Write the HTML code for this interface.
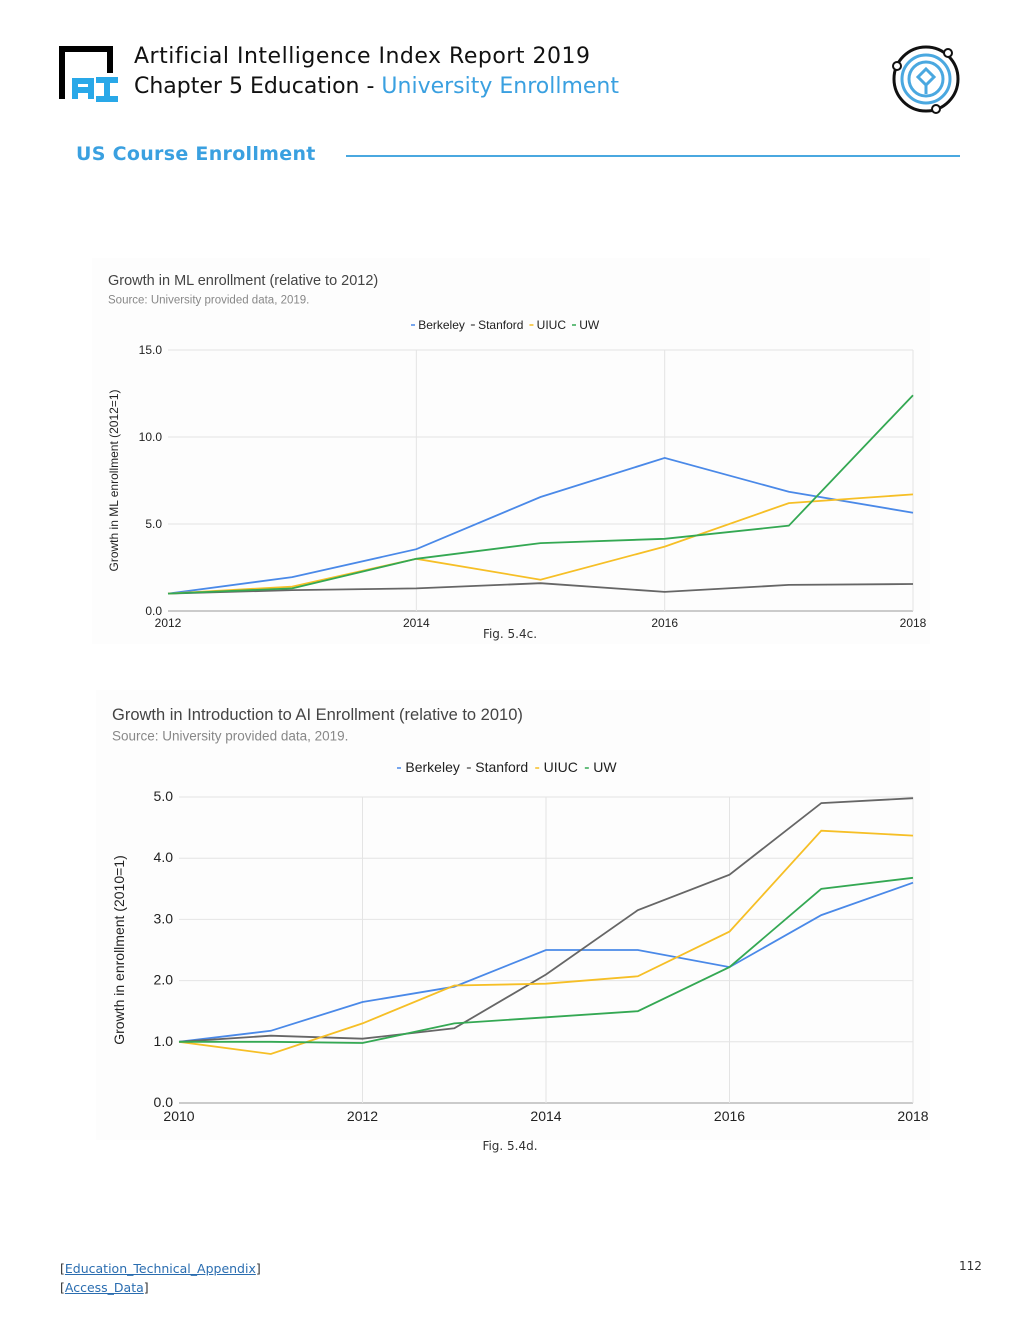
<!DOCTYPE html>
<html><head><meta charset="utf-8">
<style>
body{margin:0;background:#fff;font-family:"Liberation Sans",sans-serif;}
#page{position:relative;width:1020px;height:1320px;overflow:hidden;}
.abs{position:absolute;}
.hdr{font-family:"DejaVu Sans","Liberation Sans",sans-serif;font-size:22px;color:#111;letter-spacing:0.5px;white-space:nowrap;}
a{color:#2a6db0;}
</style></head>
<body>
<div id="page">
  <svg class="abs" style="left:58px;top:45px" width="64" height="58">
    <path d="M4 54 V4 H52 V28" fill="none" stroke="#000" stroke-width="6"/>
    <path d="M17 54 V36 H33 V54 M17 45 H33" fill="none" stroke="#29a8e8" stroke-width="6"/>
    <path d="M38 35 H60 M49 35 V54 M38 54 H60" fill="none" stroke="#29a8e8" stroke-width="6"/>
  </svg>
  <div class="abs hdr" style="left:134px;top:44px">Artificial Intelligence Index Report 2019</div>
  <div class="abs hdr" style="left:134px;top:74px;letter-spacing:0">Chapter 5 Education - <span style="color:#3aa0e0">University Enrollment</span></div>
  <svg class="abs" style="left:888px;top:42px" width="76" height="76">
    <circle cx="38" cy="37" r="32" fill="none" stroke="#111" stroke-width="3"/>
    <circle cx="38" cy="37" r="24" fill="none" stroke="#4aa8e0" stroke-width="3"/>
    <circle cx="38" cy="37" r="17" fill="none" stroke="#4aa8e0" stroke-width="3"/>
    <path d="M38 27 L46 35 L38 43 L30 35 Z" fill="none" stroke="#4aa8e0" stroke-width="3"/>
    <line x1="38" y1="43" x2="38" y2="52" stroke="#4aa8e0" stroke-width="3"/>
    <circle cx="9" cy="24" r="4" fill="#fff" stroke="#111" stroke-width="2"/>
    <circle cx="60" cy="11" r="4" fill="#fff" stroke="#111" stroke-width="2"/>
    <circle cx="48" cy="67" r="4" fill="#fff" stroke="#111" stroke-width="2"/>
  </svg>
  <div class="abs" style="left:76px;top:143px;font-family:'DejaVu Sans',sans-serif;font-size:19px;color:#3aa0e0;font-weight:bold;letter-spacing:0.3px">US Course Enrollment</div>
  <div class="abs" style="left:346px;top:155px;width:614px;height:2px;background:#4aa8e0"></div>

  <svg id="c1" class="abs" style="left:0;top:0" width="1020" height="1320"></svg>

  <div class="abs" style="left:60px;top:1259px;font-family:'DejaVu Sans',sans-serif;font-size:12.5px;color:#333;line-height:19px">
    [<a style="text-decoration:underline">Education_Technical_Appendix</a>]<br>
    [<a style="text-decoration:underline">Access_Data</a>]
  </div>
  <div class="abs" style="left:959px;top:1259px;font-family:'DejaVu Sans',sans-serif;font-size:12px;color:#333">112</div>
</div>
<script>
const seriesNames=["Berkeley","Stanford","UIUC","UW"];
const seriesColors=["#4a89e8","#666666","#f6bf26","#34a853"];
const years1=[2012,2013,2014,2015,2016,2017,2018];
const ml_berkeley=[1.0,1.95,3.55,6.55,8.8,6.85,5.65];
const ml_stanford=[1.0,1.2,1.3,1.6,1.1,1.5,1.55];
const ml_uiuc=[1.0,1.4,3.0,1.8,3.7,6.2,6.7];
const ml_uw=[1.0,1.3,3.0,3.9,4.15,4.9,12.4];
const yTicks1=["0.0","5.0","10.0","15.0"];
const xTicks1=[2012,2014,2016,2018];
const years2=[2010,2011,2012,2013,2014,2015,2016,2017,2018];
const ai_berkeley=[1.0,1.18,1.65,1.9,2.5,2.5,2.22,3.07,3.6];
const ai_stanford=[1.0,1.1,1.05,1.22,2.1,3.15,3.73,4.9,4.98];
const ai_uiuc=[1.0,0.8,1.3,1.92,1.95,2.07,2.8,4.45,4.37];
const ai_uw=[1.0,1.0,0.98,1.3,1.4,1.5,2.22,3.5,3.68];
const yTicks2=["0.0","1.0","2.0","3.0","4.0","5.0"];
const xTicks2=[2010,2012,2014,2016,2018];

const NS="http://www.w3.org/2000/svg";
const svg=document.getElementById("c1");
function mk(tag,attrs,name,text){
  const e=document.createElementNS(NS,tag);
  for(const k in attrs)e.setAttribute(k,attrs[k]);
  
  
  if(text!==undefined)e.textContent=text;
  svg.appendChild(e);return e;
}
function chart(o){
  const xs=v=>o.x0+(v-o.xmin)/(o.xmax-o.xmin)*(o.x1-o.x0);
  const ys=v=>o.y0-(v-o.ymin)/(o.ymax-o.ymin)*(o.y0-o.y1);
  mk("rect",{x:o.bx,y:o.by,width:o.bw,height:o.bh,fill:"#fdfdfd"},o.id+"-background");
  mk("text",{x:o.tx,y:o.ty,"font-size":o.tfs,fill:"#444"},o.id+"-title",o.title);
  mk("text",{x:o.tx,y:o.ty+o.tfs+4,"font-size":o.tfs-3,fill:"#888"},o.id+"-source","Source: University provided data, 2019.");
  o.yTicks.forEach(t=>{const v=parseFloat(t);
    mk("line",{x1:o.x0,x2:o.x1,y1:ys(v),y2:ys(v),stroke:v===0?"#999":"#e4e4e4"},o.id+"-gridline-y");
    mk("text",{x:o.x0-6,y:ys(v)+4,"font-size":o.fs,"text-anchor":"end",fill:"#222"},o.id+"-y-tick",t);});
  o.xTicks.forEach(t=>{
    if(t!==o.xmin)mk("line",{x1:xs(t),x2:xs(t),y1:o.y1,y2:o.y0,stroke:"#e4e4e4"},o.id+"-gridline-x");
    mk("text",{x:xs(t),y:o.y0+o.fs+4,"font-size":o.fs,"text-anchor":"middle",fill:"#222"},o.id+"-x-tick",t);});
  mk("text",{x:0,y:0,"font-size":o.fs,fill:"#222","text-anchor":"middle",transform:`translate(${o.yax},${(o.y0+o.y1)/2}) rotate(-90)`},o.id+"-y-axis-title",o.ytitle);
  let lx=o.lx;
  seriesNames.forEach((n,i)=>{
    mk("line",{x1:lx,x2:lx+4,y1:o.ly-4,y2:o.ly-4,stroke:seriesColors[i],"stroke-width":1.5},o.id+"-legend-swatch");
    const t=mk("text",{x:lx+o.lfs*0.6,y:o.ly,"font-size":o.lfs,fill:"#222"},o.id+"-legend-entry",n);
    lx+=o.lfs*0.6+t.getComputedTextLength()+o.lfs*0.5;
  });
  o.series.forEach((s,i)=>{
    const d=s.map((v,j)=>(j?"L":"M")+xs(o.years[j]).toFixed(1)+" "+ys(v).toFixed(1)).join(" ");
    mk("path",{d,fill:"none",stroke:seriesColors[i],"stroke-width":1.8},o.id+"-line-"+seriesNames[i].toLowerCase());
  });
  mk("text",{x:o.capx,y:o.capy,"font-size":12,fill:"#333","text-anchor":"middle","font-family":"DejaVu Sans,sans-serif"},o.id+"-caption",o.cap);
}
chart({id:"ml-chart",bx:92,by:258,bw:838,bh:386,x0:168,x1:913,y0:611,y1:350,xmin:2012,xmax:2018,ymin:0,ymax:15,
  years:years1,series:[ml_berkeley,ml_stanford,ml_uiuc,ml_uw],yTicks:yTicks1,xTicks:xTicks1,fs:12,
  title:"Growth in ML enrollment (relative to 2012)",tx:108,ty:285,tfs:14.5,lx:411,ly:329,lfs:12,
  ytitle:"Growth in ML enrollment (2012=1)",yax:118,cap:"Fig. 5.4c.",capx:510,capy:638});
chart({id:"ai-chart",bx:96,by:690,bw:834,bh:450,x0:179,x1:913,y0:1103,y1:797,xmin:2010,xmax:2018,ymin:0,ymax:5,
  years:years2,series:[ai_berkeley,ai_stanford,ai_uiuc,ai_uw],yTicks:yTicks2,xTicks:xTicks2,fs:14,
  title:"Growth in Introduction to AI Enrollment (relative to 2010)",tx:112,ty:720,tfs:16.5,lx:397,ly:772,lfs:14,
  ytitle:"Growth in enrollment (2010=1)",yax:124,cap:"Fig. 5.4d.",capx:510,capy:1150});
</script>
</body></html>
